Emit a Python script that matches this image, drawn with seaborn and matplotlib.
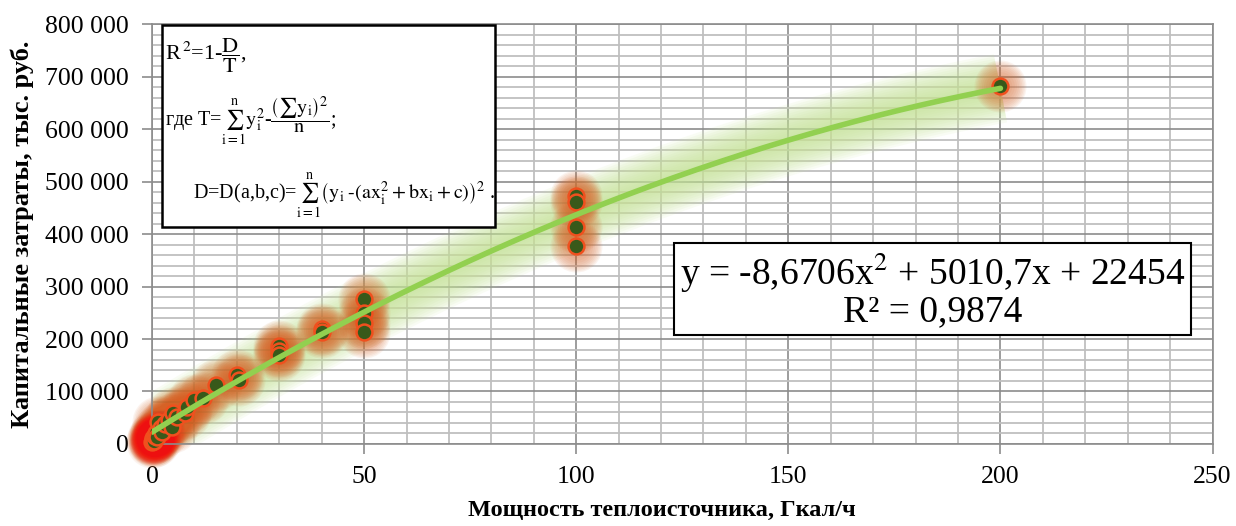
import numpy as np
import pandas as pd
import matplotlib
matplotlib.use("Agg")
import matplotlib.pyplot as plt
from matplotlib.ticker import MultipleLocator, FuncFormatter
import seaborn as sns

# ---- data ----
power = [0.1, 0.2, 0.3, 0.5, 0.6, 1.0, 1.2, 1.4, 2.0, 2.4, 3.0, 4.0, 4.7, 5.0,
         6.0, 7.8, 8.2, 10, 12, 15, 20, 20.4, 30, 30, 30, 40, 40,
         50, 50, 50, 50, 100, 100, 100, 100, 200]
cost = [3000, 8000, 12000, 6000, 15000, 20000, 14000, 42000, 30000, 23000, 38000, 45000,
        32000, 59000, 52000, 59000, 70000, 84000, 88000, 112000, 131000, 122000,
        186000, 178000, 170000, 220000, 213000,
        276000, 250000, 230000, 213000, 473000, 462000, 413000, 378000, 683000]
coef_a, coef_b, coef_c = -8.6706, 5010.7, 22454
r2 = 0.9874

x_ticks = [0, 50, 100, 150, 200, 250]
y_ticks = [0, 100000, 200000, 300000, 400000, 500000, 600000, 700000, 800000]
x_label = "Мощность теплоисточника, Гкал/ч"
y_label = "Капитальные затраты, тыс. руб."

sns.set_theme(style="white")
plt.rcParams['font.family'] = ['Liberation Serif', 'DejaVu Serif']
plt.rcParams['mathtext.fontset'] = 'stix'
for k in ['text.color', 'axes.labelcolor', 'xtick.labelcolor', 'ytick.labelcolor']:
    plt.rcParams[k] = 'black'

df = pd.DataFrame({"x": power, "y": cost})
xs = np.linspace(0, 200, 300)
fit = pd.DataFrame({"x": xs, "y": coef_a * xs**2 + coef_b * xs + coef_c})

fig = plt.figure(figsize=(12.36, 5.26), dpi=100)
ax = fig.add_axes([0.123, 0.156, 0.858, 0.798])

# grid
ax.set_xlim(0, 250)
ax.set_ylim(0, 800000)
ax.xaxis.set_major_locator(MultipleLocator(50))
ax.xaxis.set_minor_locator(MultipleLocator(10))
ax.yaxis.set_major_locator(MultipleLocator(100000))
ax.yaxis.set_minor_locator(MultipleLocator(20000))
ax.grid(which='minor', color='#bfbfbf', lw=1.3)
ax.grid(which='major', color='#8c8c8c', lw=1.2)
ax.set_axisbelow(True)

# glow around fit line
for lw in np.linspace(50, 6, 14):
    ax.plot(fit.x, fit.y, color='#c5e496', lw=lw, alpha=0.10, solid_capstyle='butt', zorder=1)

# glow around points
small = df[df.y < 25000]
for s in np.linspace(1400, 150, 10):
    ax.scatter(df.x, df.y, s=s, color='#d66226', alpha=0.075, lw=0, zorder=2, clip_on=False)
for s in np.linspace(1100, 120, 12):
    ax.scatter(small.x, small.y, s=s, color='#ff1010', alpha=0.06, lw=0, zorder=2, clip_on=False)

sns.scatterplot(data=df, x="x", y="y", ax=ax, s=130, color='#38591a',
                edgecolor='#f0501e', linewidth=1.8, zorder=4, clip_on=False)
sns.lineplot(data=fit, x="x", y="y", ax=ax, color='#92d050', lw=4, zorder=5)

ax.set_xticks(x_ticks)
ax.set_yticks(y_ticks)
ax.yaxis.set_major_formatter(FuncFormatter(lambda v, p: f"{int(v):,}".replace(",", " ")))
ax.tick_params(axis='both', which='major', labelsize=18.5, length=7, width=1.2,
               color='#8c8c8c', direction='out', bottom=True, left=True)
ax.tick_params(axis='y', pad=10)
ax.tick_params(axis='x', pad=9)
ax.tick_params(which='minor', length=0)
for sp in ax.spines.values():
    sp.set_color('#8c8c8c')
    sp.set_linewidth(1.2)

ax.set_xlabel(x_label, fontsize=17.5, fontweight='bold')
ax.xaxis.set_label_coords(0.481, -0.133)
ax.set_ylabel(y_label, fontsize=19, fontweight='bold', labelpad=8)

# equation box
ax.text(0.736, 0.367, f"y = -8,6706x$^2$ + 5010,7x + 22454\nR² = {str(r2).replace('.', ',')}",
        transform=ax.transAxes, ha='center', va='center', fontsize=27, linespacing=0.98,
        bbox=dict(boxstyle='square,pad=0.15', fc='white', ec='black', lw=1.5), zorder=10)

# formula box
bx0, by0, bw, bh = 0.0094, 0.517, 0.314, 0.481
ax.add_patch(plt.Rectangle((bx0, by0), bw, bh, transform=ax.transAxes, fc='white',
                           ec='black', lw=1.8, zorder=10))
ax.text(bx0 + 0.003, 0.925, r"R$^{\,2}$=1-$\genfrac{}{}{0.6}{0}{\mathrm{D}}{\mathrm{T}}$,",
        transform=ax.transAxes, fontsize=16, va='center', ha='left', zorder=11)
ax.text(bx0 + 0.003, 0.771,
        r"где T=$\sum_{\mathrm{i=1}}^{\mathrm{n}}\mathrm{y}_\mathrm{i}^2$-"
        r"$\genfrac{}{}{0.6}{0}{\left(\sum\mathrm{y}_\mathrm{i}\right)^2}{\mathrm{n}}$;",
        transform=ax.transAxes, fontsize=14.5, va='center', ha='left', zorder=11)
ax.text(0.0386, 0.59,
        r"D=D(a,b,c)=$\sum_{\mathrm{i=1}}^{\mathrm{n}}\left(\mathrm{y}_\mathrm{i}\;\text{-}(\mathrm{ax}_\mathrm{i}^2+\mathrm{bx}_\mathrm{i}+\mathrm{c})\right)^2$ .",
        transform=ax.transAxes, fontsize=14.5, va='center', ha='left', zorder=11)

fig.savefig("out.png", dpi=100)
